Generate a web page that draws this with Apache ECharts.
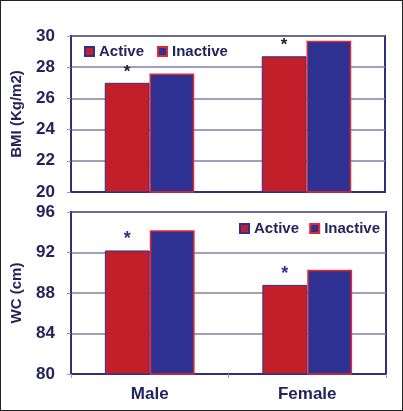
<!DOCTYPE html>
<html><head><meta charset="utf-8">
<script src="https://cdn.jsdelivr.net/npm/echarts@6/dist/echarts.min.js"></script>
<style>
html,body{margin:0;padding:0;background:#fff;}
#c{width:401px;height:409px;border:1px solid #222;}
</style></head>
<body><div id="c"></div>
<script>
const categories = ['Male', 'Female'];
const bmiActive = [27.0, 28.7];
const bmiInactive = [27.6, 29.7];
const wcActive = [92.2, 88.8];
const wcInactive = [94.2, 90.3];
const bmiTicks = {min: 20, max: 30, interval: 2};
const wcTicks = {min: 80, max: 96, interval: 4};

const RED = '#c11f2a', BLUE = '#2e3192', NAVY = '#23235e', FRAME = '#2f2f7a';
const font = 'Liberation Sans, Arial, sans-serif';
const chart = echarts.init(document.getElementById('c'));
const redStyle = {color: RED, borderColor: BLUE, borderWidth: 1};
const blueStyle = {color: BLUE, borderColor: '#e02a30', borderWidth: 1.5};
const yAxisBase = (idx, t, name) => ({
  gridIndex: idx, type: 'value', min: t.min, max: t.max, interval: t.interval,
  name: name, nameLocation: 'middle', nameGap: 47, nameRotate: 90,
  nameTextStyle: {fontFamily: font, fontWeight: 'bold', fontSize: 15, color: NAVY},
  axisLine: {show: true, lineStyle: {color: FRAME, width: 2}},
  axisTick: {show: true, length: 4, lineStyle: {color: '#9a9ab8'}},
  axisLabel: {fontFamily: font, fontWeight: 'bold', fontSize: 17, color: NAVY, margin: 16},
  splitLine: {lineStyle: {color: '#8080a8', width: 1.5}}
});
const legendText = {fontFamily: font, fontWeight: 'bold', fontSize: 15, color: NAVY};
chart.setOption({
  animation: false,
  grid: [
    {left: 68, right: 17, top: 35, height: 156, show: true, borderColor: FRAME, borderWidth: 2},
    {left: 68, right: 16, top: 211, height: 162, show: true, borderColor: FRAME, borderWidth: 2}
  ],
  legend: [
    {data: ['Active', 'Inactive'], left: 83, top: 43, width: 200, padding: 0, itemWidth: 9, itemHeight: 9, itemGap: 13, icon: 'rect', textStyle: legendText},
    {data: ['Active ', 'Inactive '], left: 238, top: 220, width: 160, padding: 0, itemWidth: 9, itemHeight: 9, itemGap: 6, icon: 'rect', textStyle: legendText}
  ],
  xAxis: [
    {gridIndex: 0, type: 'category', data: categories, axisLabel: {show: false}, axisTick: {show: false},
     axisLine: {lineStyle: {color: FRAME, width: 2}}},
    {gridIndex: 1, type: 'category', data: categories,
     axisLine: {lineStyle: {color: FRAME, width: 2}},
     axisTick: {show: true, length: 4, lineStyle: {color: '#9a9ab8'}},
     axisLabel: {fontFamily: font, fontWeight: 'bold', fontSize: 17, color: NAVY, margin: 12}}
  ],
  yAxis: [yAxisBase(0, bmiTicks, 'BMI (Kg/m2)'), yAxisBase(1, wcTicks, 'WC (cm)')],
  series: [
    {name: 'Active', type: 'bar', xAxisIndex: 0, yAxisIndex: 0, data: bmiActive, barGap: '0%', barCategoryGap: '43%',
     itemStyle: redStyle,
     label: {show: true, position: 'top', formatter: '*', distance: 2, fontFamily: font, fontWeight: 'bold', fontSize: 17, color: '#222'}},
    {name: 'Inactive', type: 'bar', xAxisIndex: 0, yAxisIndex: 0, data: bmiInactive, barGap: '0%', barCategoryGap: '43%',
     itemStyle: blueStyle},
    {name: 'Active ', type: 'bar', xAxisIndex: 1, yAxisIndex: 1, data: wcActive, barGap: '0%', barCategoryGap: '43%',
     itemStyle: redStyle,
     label: {show: true, position: 'top', formatter: '*', distance: 2, fontFamily: font, fontWeight: 'bold', fontSize: 18, color: BLUE}},
    {name: 'Inactive ', type: 'bar', xAxisIndex: 1, yAxisIndex: 1, data: wcInactive, barGap: '0%', barCategoryGap: '43%',
     itemStyle: blueStyle}
  ]
});
</script></body></html>
